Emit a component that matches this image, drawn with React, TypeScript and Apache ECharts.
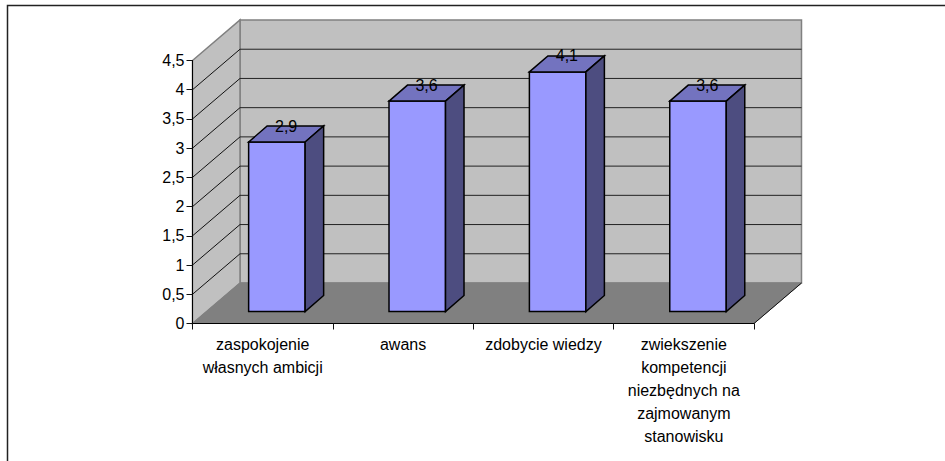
import React, { useEffect, useRef } from "react";
import * as echarts from "echarts";

const categories = [
  "zaspokojenie\nwłasnych ambicji",
  "awans",
  "zdobycie wiedzy",
  "zwiekszenie\nkompetencji\nniezbędnych na\nzajmowanym\nstanowisku",
];
const values = [2.9, 3.6, 4.1, 3.6];
const gridValues = [0, 0.5, 1, 1.5, 2, 2.5, 3, 3.5, 4, 4.5];

const FONT = '"Liberation Sans", Arial, sans-serif';
const DEPTH = { x: 47.5, y: -40.5 };
const BAR_DEPTH = { x: 18.5, y: -16 };
const BAR_INSET = { x: 14.2, y: -12 };
const BAR_WIDTH = 56.5;

const comma = (v: number) => String(v).replace(".", ",");

const line = (x1: number, y1: number, x2: number, y2: number, stroke: string, lineWidth = 1) => ({
  type: "line",
  shape: { x1, y1, x2, y2 },
  style: { stroke, lineWidth },
  silent: true,
});

const poly = (points: number[][], fill: string, stroke: string, lineWidth = 1) => ({
  type: "polygon",
  shape: { points },
  style: { fill, stroke, lineWidth, lineJoin: "miter" },
  silent: true,
});

// Side wall, back wall and floor of the 3D box, derived from the axis scales.
function renderBox(_: any, api: any) {
  const [x0, y0] = api.coord([0, 0]);
  const [, yTop] = api.coord([0, 4.5]);
  const step = api.coord([1, 0])[0] - x0;
  const left = x0 - step / 2;
  const right = api.coord([3, 0])[0] + step / 2;
  const d = DEPTH;
  const children: any[] = [
    poly([[left + d.x, yTop + d.y], [right + d.x, yTop + d.y], [right + d.x, y0 + d.y], [left + d.x, y0 + d.y]], "#C0C0C0", "#808080", 1.5),
    poly([[left, yTop], [left + d.x, yTop + d.y], [left + d.x, y0 + d.y], [left, y0]], "#C0C0C0", "#808080", 1.5),
  ];
  gridValues.forEach((v) => {
    if (v === 0 || v === 4.5) return;
    const y = api.coord([0, v])[1];
    children.push(line(left, y, left + d.x, y + d.y, "#111111"));
    children.push(line(left + d.x, y + d.y, right + d.x, y + d.y, "#222222"));
  });
  children.push(poly([[left, y0], [left + d.x, y0 + d.y], [right + d.x, y0 + d.y], [right, y0]], "#808080", "#808080", 1));
  children.push(line(right, y0, right + d.x, y0 + d.y, "#111111"));
  return { type: "group", children };
}

// One bar: front, top and side faces plus its value label on the rear top edge.
function renderBar(_: any, api: any) {
  const cat = api.value(0);
  const val = api.value(1);
  const [cx, yBase] = api.coord([cat, 0]);
  const [, yVal] = api.coord([cat, val]);
  const l = cx + BAR_INSET.x - BAR_WIDTH / 2;
  const r = l + BAR_WIDTH;
  const b = yBase + BAR_INSET.y;
  const t = yVal + BAR_INSET.y;
  const d = BAR_DEPTH;
  const edge = "#000000";
  return {
    type: "group",
    children: [
      poly([[l, b], [r, b], [r, t], [l, t]], "#9999FF", edge, 1.5),
      poly([[l, t], [l + d.x, t + d.y], [r + d.x, t + d.y], [r, t]], "#7373BF", edge, 1.5),
      poly([[r, t], [r + d.x, t + d.y], [r + d.x, b + d.y], [r, b]], "#4D4D80", edge, 1.5),
      {
        type: "text",
        x: (l + r) / 2 + d.x / 2,
        y: t + d.y,
        silent: true,
        style: {
          text: comma(val),
          fill: "#000000",
          font: `16px ${FONT}`,
          textAlign: "center",
          textVerticalAlign: "middle",
        },
      },
    ],
  };
}

export default function App() {
  const ref = useRef<HTMLDivElement>(null);
  useEffect(() => {
    const chart = echarts.init(ref.current!, undefined, { renderer: "svg" });
    chart.setOption({
      animation: false,
      backgroundColor: "#FFFFFF",
      graphic: [
        {
          type: "polyline",
          shape: { points: [[7.5, 461], [7.5, 5.5], [945, 5.5]] },
          style: { stroke: "#222222", lineWidth: 1.5, fill: "none" },
          silent: true,
        },
      ],
      grid: { left: 192.5, top: 60.5, width: 561.5, height: 263 },
      xAxis: {
        type: "category",
        data: categories,
        z: 5,
        axisLine: { show: true, lineStyle: { color: "#000000", width: 1 } },
        axisTick: { show: true, alignWithLabel: false, length: 6, lineStyle: { color: "#111111", width: 1 } },
        axisLabel: {
          interval: 0,
          color: "#000000",
          fontFamily: FONT,
          fontSize: 16,
          lineHeight: 23,
          margin: 9,
        },
      },
      yAxis: {
        type: "value",
        min: 0,
        max: 4.5,
        interval: 0.5,
        z: 5,
        axisLine: { show: true, lineStyle: { color: "#000000", width: 1 } },
        axisTick: { show: true, length: 6, lineStyle: { color: "#111111", width: 1 } },
        splitLine: { show: false },
        axisLabel: {
          color: "#000000",
          fontFamily: FONT,
          fontSize: 16,
          margin: 8,
          formatter: (v: number) => comma(v),
        },
      },
      series: [
        {
          type: "custom",
          coordinateSystem: "cartesian2d",
          renderItem: renderBox,
          data: [[0, 0]],
          silent: true,
          clip: false,
          z: 1,
        },
        {
          type: "custom",
          coordinateSystem: "cartesian2d",
          renderItem: renderBar,
          data: values.map((v, i) => [i, v]),
          silent: true,
          clip: false,
          z: 2,
        },
      ],
    });
    return () => chart.dispose();
  }, []);
  return <div ref={ref} style={{ position: "fixed", left: 0, top: 0, width: 945, height: 461 }} />;
}
